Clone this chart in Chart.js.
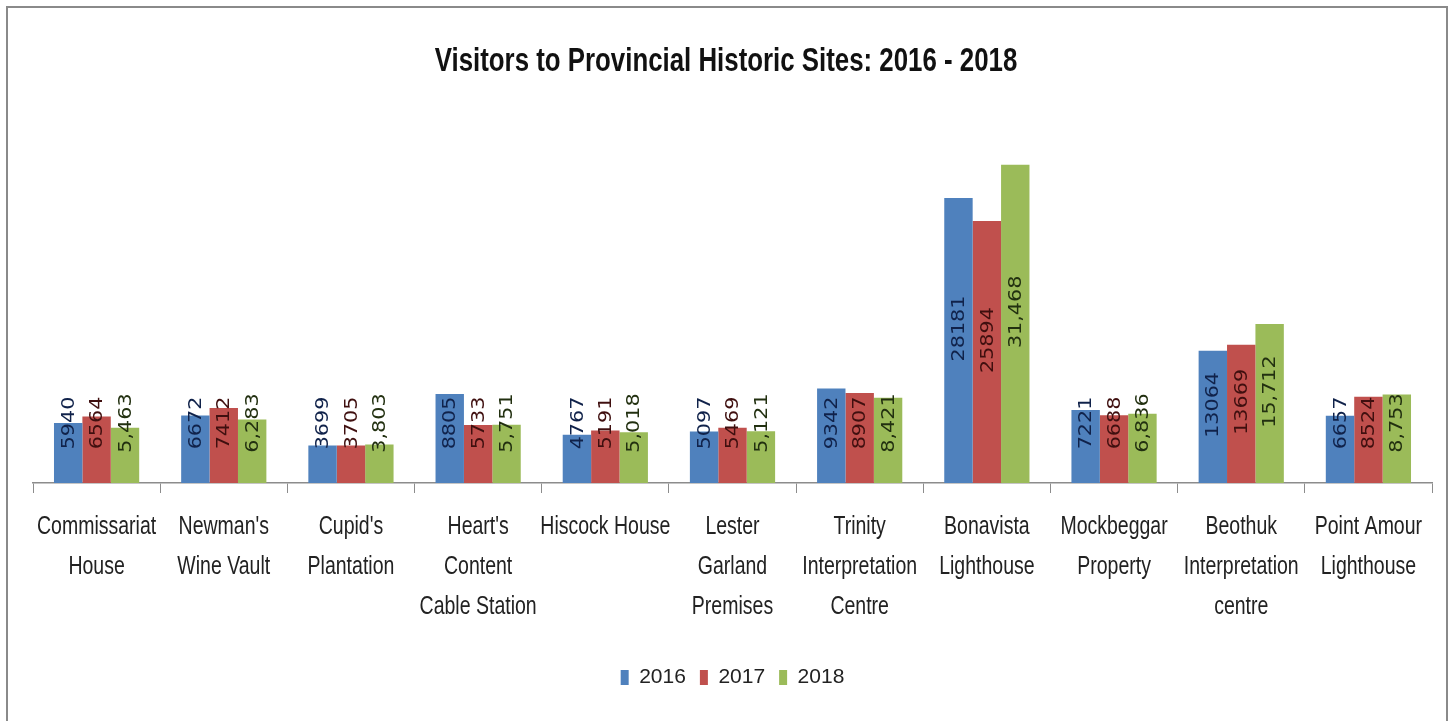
<!DOCTYPE html>
<html>
<head>
<meta charset="utf-8">
<script src="https://cdn.jsdelivr.net/npm/chart.js@4.4.1/dist/chart.umd.min.js"></script>
<style>
  html, body { margin: 0; padding: 0; background: #fff; }
  #wrap { position: relative; width: 1452px; height: 721px; }
  #frame {
    position: absolute; left: 6px; top: 6px; width: 1438px; height: 730px;
    border: 2px solid #8a8a8a; border-bottom: none; pointer-events: none;
  }
</style>
</head>
<body>
<div id="wrap">
  <canvas id="chart" width="1452" height="721"></canvas>
  <div id="frame"></div>
</div>
<script>
// Data
const sites = [
  ["Commissariat", "House"],
  ["Newman's", "Wine Vault"],
  ["Cupid's", "Plantation"],
  ["Heart's", "Content", "Cable Station"],
  ["Hiscock House"],
  ["Lester", "Garland", "Premises"],
  ["Trinity", "Interpretation", "Centre"],
  ["Bonavista", "Lighthouse"],
  ["Mockbeggar", "Property"],
  ["Beothuk", "Interpretation", "centre"],
  ["Point Amour", "Lighthouse"]
];
const years = ["2016", "2017", "2018"];
const visitors2016 = [5940, 6672, 3699, 8805, 4767, 5097, 9342, 28181, 7221, 13064, 6657];
const visitors2017 = [6564, 7412, 3705, 5733, 5191, 5469, 8907, 25894, 6688, 13669, 8524];
const visitors2018 = [5463, 6283, 3803, 5751, 5018, 5121, 8421, 31468, 6836, 15712, 8753];
const chartTitle = "Visitors to Provincial Historic Sites: 2016 - 2018";

// Colours
const barColors = ["#4f81bd", "#c0504d", "#9bbb59"];
const labelColors = ["#10224a", "#3f0f0f", "#223010"];
// 2018 labels were shown with thousands separators
const useComma = [false, false, true];

const sans = "'Liberation Sans', Arial, sans-serif";

// draw text squeezed horizontally (no condensed font available)
function narrowText(ctx, text, x, y, font, sx, color) {
  ctx.save();
  ctx.translate(x, y);
  ctx.scale(sx, 1);
  ctx.font = font;
  ctx.fillStyle = color;
  ctx.textAlign = "center";
  ctx.textBaseline = "middle";
  ctx.fillText(text, 0, 0);
  ctx.restore();
}

// Title and category labels in a condensed style
const textPlugin = {
  id: "textPlugin",
  afterDraw(chart) {
    const ctx = chart.ctx;
    narrowText(ctx, chartTitle, 726, 62, "bold 34px " + sans, 0.76, "#111");
    const xs = chart.scales.x;
    const y0 = chart.chartArea.bottom + 44;
    sites.forEach((lines, i) => {
      const x = xs.getPixelForValue(i);
      lines.forEach((line, k) => {
        narrowText(ctx, line, x, y0 + k * 40, "26px " + sans, 0.75, "#222");
      });
    });
  }
};

// Rotated value labels on the bars
const barLabels = {
  id: "barLabels",
  afterDatasetsDraw(chart) {
    const ctx = chart.ctx;
    chart.data.datasets.forEach((ds, i) => {
      const meta = chart.getDatasetMeta(i);
      meta.data.forEach((bar, j) => {
        const v = ds.data[j];
        const text = useComma[i] ? v.toLocaleString("en-US") : String(v);
        const mid = (bar.y + bar.base) / 2;
        const cy = Math.min(mid - 12, bar.base - 60);
        ctx.save();
        ctx.translate(bar.x, cy);
        ctx.rotate(-Math.PI / 2);
        ctx.scale(1.15, 1);
        ctx.font = "18px 'DejaVu Sans', Verdana, sans-serif";
        ctx.fillStyle = labelColors[i];
        ctx.textAlign = "center";
        ctx.textBaseline = "middle";
        ctx.fillText(text, 0, 1);
        ctx.restore();
      });
    });
  }
};

const ctx = document.getElementById("chart").getContext("2d");
new Chart(ctx, {
  type: "bar",
  data: {
    labels: sites,
    datasets: [
      { label: years[0], data: visitors2016, backgroundColor: barColors[0] },
      { label: years[1], data: visitors2017, backgroundColor: barColors[1] },
      { label: years[2], data: visitors2018, backgroundColor: barColors[2] }
    ]
  },
  options: {
    responsive: false,
    animation: false,
    layout: { padding: { left: 33, right: 20, top: 129, bottom: 23 } },
    datasets: {
      bar: { categoryPercentage: 0.67, barPercentage: 1.0, borderWidth: 0 }
    },
    scales: {
      x: {
        grid: {
          offset: true,
          drawOnChartArea: false,
          drawTicks: true,
          tickLength: 10,
          color: "#8c8c8c"
        },
        border: { color: "#8c8c8c", width: 1.5 },
        ticks: { display: false },
        afterFit: (axis) => { axis.height = 170; }
      },
      y: {
        display: false,
        min: 0,
        max: 35000
      }
    },
    plugins: {
      title: { display: false },
      legend: {
        position: "bottom",
        labels: {
          boxWidth: 8,
          boxHeight: 15,
          padding: 14,
          color: "#222",
          font: { family: sans, size: 21 }
        }
      },
      tooltip: { enabled: false }
    }
  },
  plugins: [barLabels, textPlugin]
});
</script>
</body>
</html>
